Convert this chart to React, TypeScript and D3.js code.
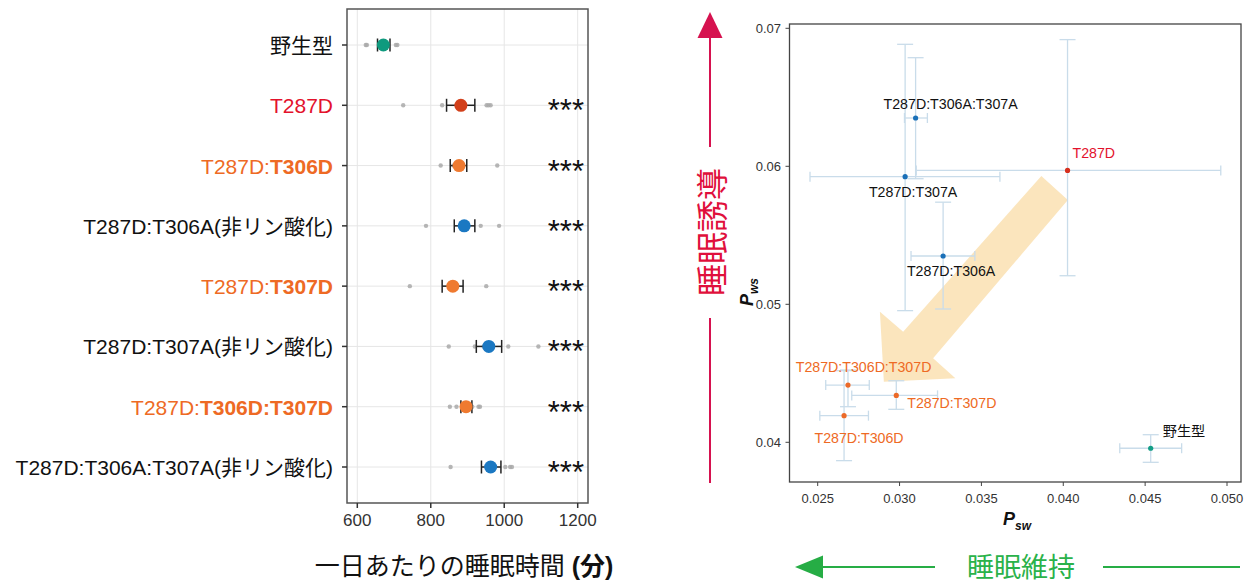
import React from "react";
import * as d3 from "d3";

// ---------- Left panel data ----------
const categories = [
  "野生型",
  "T287D",
  "T287D:T306D",
  "T287D:T306A(非リン酸化)",
  "T287D:T307D",
  "T287D:T307A(非リン酸化)",
  "T287D:T306D:T307D",
  "T287D:T306A:T307A(非リン酸化)",
];
const labelSegments: [string, boolean][][] = [
  [["野生型", false]],
  [["T287D", false]],
  [["T287D:", false], ["T306D", true]],
  [["T287D:T306A(非リン酸化)", false]],
  [["T287D:", false], ["T307D", true]],
  [["T287D:T307A(非リン酸化)", false]],
  [["T287D:", false], ["T306D:T307D", true]],
  [["T287D:T306A:T307A(非リン酸化)", false]],
];
const groupType = ["wt", "red", "orange", "blue", "orange", "blue", "orange", "blue"];
const sleepMean = [671, 882, 877, 891, 860, 958, 896, 963];
const sleepLow = [655, 843, 853, 864, 831, 924, 882, 938];
const sleepHigh = [689, 920, 898, 920, 888, 993, 912, 991];
const sleepPoints = [
  [623, 626, 660, 672, 680, 705, 709],
  [725, 831, 870, 882, 952, 957, 963],
  [827, 862, 872, 885, 981],
  [787, 880, 936, 986],
  [743, 858, 870, 951],
  [849, 920, 944, 1011, 1093],
  [852, 870, 898, 913, 930, 934],
  [854, 1003, 1016, 1021],
];
const sigMarks = ["", "***", "***", "***", "***", "***", "***", "***"];
const sleepTicks = [600, 800, 1000, 1200];

// ---------- Right panel data ----------
const mutants = [
  "T287D:T306A:T307A",
  "T287D",
  "T287D:T307A",
  "T287D:T306A",
  "T287D:T306D:T307D",
  "T287D:T307D",
  "T287D:T306D",
  "野生型",
];
const mutantType = ["blue", "red", "blue", "blue", "orange", "orange", "orange", "wt"];
const psw = [0.03098, 0.04026, 0.03034, 0.03266, 0.02685, 0.0298, 0.02661, 0.04534];
const pswLow = [0.0303, 0.03102, 0.02453, 0.0307, 0.02549, 0.02708, 0.02513, 0.04345];
const pswHigh = [0.0317, 0.04962, 0.03613, 0.0346, 0.02815, 0.03232, 0.0281, 0.04723];
const pws = [0.0635, 0.0597, 0.05925, 0.0535, 0.04415, 0.0434, 0.04193, 0.03957];
const pwsLow = [0.0591, 0.05207, 0.04954, 0.04966, 0.04258, 0.04239, 0.03867, 0.03855];
const pwsHigh = [0.06787, 0.06918, 0.06884, 0.0574, 0.04524, 0.04446, 0.04519, 0.04055];
const pswTicks = [0.025, 0.03, 0.035, 0.04, 0.045, 0.05];
const pwsTicks = [0.04, 0.05, 0.06, 0.07];
// annotation arrow (data coords: [psw, pws])
const trendArrow: [number, number][] = [
  [0.03866, 0.0593],
  [0.04028, 0.05756],
  [0.03205, 0.04609],
  [0.03341, 0.04464],
  [0.02904, 0.04439],
  [0.0288, 0.04946],
  [0.03022, 0.04801],
];

// ---------- styles ----------
const FONT = "'Liberation Sans', Arial, 'Noto Sans CJK JP', sans-serif";
const meanColor: Record<string, string> = {
  wt: "#0f9a7e",
  red: "#d2401b",
  orange: "#ef7a30",
  blue: "#1b78c2",
};
const labelColor: Record<string, string> = {
  wt: "#111",
  red: "#e3122c",
  orange: "#ee6a24",
  blue: "#111",
};
const ptColor: Record<string, string> = {
  wt: "#139e86",
  red: "#d6301e",
  orange: "#ec6a28",
  blue: "#1a70b8",
};
const rLabelColor: Record<string, string> = {
  wt: "#111",
  red: "#e3122c",
  orange: "#ee6a24",
  blue: "#111",
};
// label placement for right panel: [anchor, dx, dy]
const rLabelPos: [string, number, number][] = [
  ["middle", 35, -14],
  ["start", 5, -17.5],
  ["middle", 8, 15],
  ["middle", 8, 15],
  ["middle", 15.6, -18.3],
  ["start", 11, 8],
  ["middle", 15, 22],
  ["start", 12, -17],
];

export default function App() {
  // left scales
  const L = { x0: 347, x1: 588, y0: 9, y1: 503 };
  const xL = d3.scaleLinear().domain([600, 1200]).range([357.3, 577.7]);
  const yL = d3.scalePoint<string>().domain(categories).range([45, 467]);

  // right scales
  const R = { x0: 789.5, x1: 1241, y0: 24, y1: 482 };
  const xR = d3.scaleLinear().domain([0.025, 0.05]).range([817.7, 1227]);
  const yR = d3.scaleLinear().domain([0.04, 0.07]).range([442.3, 28.3]);

  const arrowPath = d3.line()(trendArrow.map(([a, b]) => [xR(a), yR(b)] as [number, number])) + "Z";

  const cap = 6.5;
  const rcap = 5;
  const ebColor = "#c9dcea";

  return (
    <svg
      width={1256}
      height={583}
      style={{ position: "absolute", left: 0, top: 0, background: "#fff" }}
      fontFamily={FONT}
    >
      {/* ================= LEFT PANEL ================= */}
      <g>
        {sleepTicks.map((t) => (
          <line key={"vg" + t} x1={xL(t)} x2={xL(t)} y1={L.y0} y2={L.y1} stroke="#e6e6e6" strokeWidth={1} />
        ))}
        {categories.map((c) => (
          <line key={"hg" + c} x1={L.x0} x2={L.x1} y1={yL(c)} y2={yL(c)} stroke="#e6e6e6" strokeWidth={1} />
        ))}
        {/* jitter points */}
        {categories.map((c, i) =>
          sleepPoints[i].map((v, j) => (
            <circle key={c + "p" + j} cx={xL(v)} cy={yL(c)} r={2.2} fill="#a9a9a9" opacity={0.85} />
          ))
        )}
        {/* error bars */}
        {categories.map((c, i) => {
          const y = yL(c)!;
          return (
            <g key={c + "eb"} stroke="#222" strokeWidth={1.5}>
              <line x1={xL(sleepLow[i])} x2={xL(sleepHigh[i])} y1={y} y2={y} />
              <line x1={xL(sleepLow[i])} x2={xL(sleepLow[i])} y1={y - cap} y2={y + cap} />
              <line x1={xL(sleepHigh[i])} x2={xL(sleepHigh[i])} y1={y - cap} y2={y + cap} />
            </g>
          );
        })}
        {categories.map((c, i) => (
          <circle key={c + "m"} cx={xL(sleepMean[i])} cy={yL(c)} r={6.5} fill={meanColor[groupType[i]]} />
        ))}
        {/* significance */}
        {categories.map((c, i) => (
          <text key={c + "s"} x={584} y={yL(c)! + 16} textAnchor="end" fontSize={31} fill="#111">
            {sigMarks[i]}
          </text>
        ))}
        {/* frame */}
        <rect x={L.x0} y={L.y0} width={L.x1 - L.x0} height={L.y1 - L.y0} fill="none" stroke="#555" strokeWidth={1.5} />
        {/* y ticks + labels */}
        {categories.map((c, i) => (
          <g key={c + "yl"}>
            <line x1={L.x0 - 5} x2={L.x0} y1={yL(c)} y2={yL(c)} stroke="#333" strokeWidth={1.5} />
            <text
              x={333}
              y={yL(c)}
              textAnchor="end"
              dominantBaseline="central"
              fontSize={21}
              fill={labelColor[groupType[i]]}
            >
              {labelSegments[i].map(([s, b], k) => (
                <tspan key={k} fontWeight={b ? "bold" : "normal"}>
                  {s}
                </tspan>
              ))}
            </text>
          </g>
        ))}
        {/* x ticks */}
        {sleepTicks.map((t) => (
          <g key={"xt" + t}>
            <line x1={xL(t)} x2={xL(t)} y1={L.y1} y2={L.y1 + 5} stroke="#333" strokeWidth={1.5} />
            <text x={xL(t)} y={520} textAnchor="middle" dominantBaseline="central" fontSize={17} fill="#333">
              {t}
            </text>
          </g>
        ))}
        <text x={464} y={566} textAnchor="middle" dominantBaseline="central" fontSize={25} fill="#111">
          一日あたりの睡眠時間 <tspan fontWeight="bold">(分)</tspan>
        </text>
      </g>

      {/* ================= RIGHT PANEL ================= */}
      <g>
        <path d={arrowPath} fill="#f7cf86" opacity={0.55} />
        {/* error bars */}
        {mutants.map((m, i) => {
          const x = xR(psw[i]);
          const y = yR(pws[i]);
          const xl = xR(pswLow[i]);
          const xh = xR(pswHigh[i]);
          const yl = yR(pwsLow[i]);
          const yh = yR(pwsHigh[i]);
          return (
            <g key={m + "reb"} stroke={ebColor} strokeWidth={1.3} fill="none">
              <line x1={xl} x2={xh} y1={y} y2={y} />
              <line x1={xl} x2={xl} y1={y - rcap} y2={y + rcap} />
              <line x1={xh} x2={xh} y1={y - rcap} y2={y + rcap} />
              <line x1={x} x2={x} y1={yl} y2={yh} />
              <line x1={x - rcap * 1.6} x2={x + rcap * 1.6} y1={yl} y2={yl} />
              <line x1={x - rcap * 1.6} x2={x + rcap * 1.6} y1={yh} y2={yh} />
            </g>
          );
        })}
        {mutants.map((m, i) => (
          <circle key={m + "rp"} cx={xR(psw[i])} cy={yR(pws[i])} r={2.6} fill={ptColor[mutantType[i]]} />
        ))}
        {mutants.map((m, i) => {
          const [anchor, dx, dy] = rLabelPos[i];
          return (
            <text
              key={m + "rl"}
              x={xR(psw[i]) + dx}
              y={yR(pws[i]) + dy}
              textAnchor={anchor as any}
              dominantBaseline="central"
              fontSize={14.2}
              fill={rLabelColor[mutantType[i]]}
            >
              {m}
            </text>
          );
        })}
        <rect x={R.x0} y={R.y0} width={R.x1 - R.x0} height={R.y1 - R.y0} fill="none" stroke="#444" strokeWidth={1.3} />
        {pswTicks.map((t) => (
          <g key={"rx" + t}>
            <line x1={xR(t)} x2={xR(t)} y1={R.y1} y2={R.y1 + 4} stroke="#444" />
            <text x={xR(t)} y={498} textAnchor="middle" dominantBaseline="central" fontSize={13} fill="#333">
              {d3.format(".3f")(t)}
            </text>
          </g>
        ))}
        {pwsTicks.map((t) => (
          <g key={"ry" + t}>
            <line x1={R.x0 - 4} x2={R.x0} y1={yR(t)} y2={yR(t)} stroke="#444" />
            <text x={781} y={yR(t)} textAnchor="end" dominantBaseline="central" fontSize={13} fill="#333">
              {d3.format(".2f")(t)}
            </text>
          </g>
        ))}
        {/* P_sw */}
        <text x={1003} y={525} fontSize={18} fontWeight="bold" fontStyle="italic" fill="#111">
          P
          <tspan fontSize={12} dy={5}>
            sw
          </tspan>
        </text>
        {/* P_ws rotated */}
        <text
          transform="translate(753,306) rotate(-90)"
          fontSize={18}
          fontWeight="bold"
          fontStyle="italic"
          fill="#111"
        >
          P
          <tspan fontSize={12} dy={5}>
            ws
          </tspan>
        </text>
        {/* 睡眠誘導 arrow */}
        <polygon points="710,12 697.5,38 722.5,38" fill="#d6124f" />
        <line x1={710} x2={710} y1={36} y2={147} stroke="#d6124f" strokeWidth={2} />
        <line x1={710} x2={710} y1={318} y2={483} stroke="#d6124f" strokeWidth={2} />
        <text
          transform="translate(710,232) rotate(-90)"
          textAnchor="middle"
          dominantBaseline="central"
          fontSize={32}
          fill="#e0103c"
          fontFamily="'Noto Sans CJK JP', sans-serif"
        >
          睡眠誘導
        </text>
        {/* 睡眠維持 arrow */}
        <polygon points="795,567 823,555.5 823,578.5" fill="#26ad45" />
        <line x1={821} x2={935} y1={567} y2={567} stroke="#26ad45" strokeWidth={2} />
        <line x1={1103} x2={1240} y1={567} y2={567} stroke="#26ad45" strokeWidth={2} />
        <text
          x={1021}
          y={565}
          textAnchor="middle"
          dominantBaseline="central"
          fontSize={27}
          fill="#2ab24a"
          fontFamily="'Noto Sans CJK JP', sans-serif"
        >
          睡眠維持
        </text>
      </g>
    </svg>
  );
}
